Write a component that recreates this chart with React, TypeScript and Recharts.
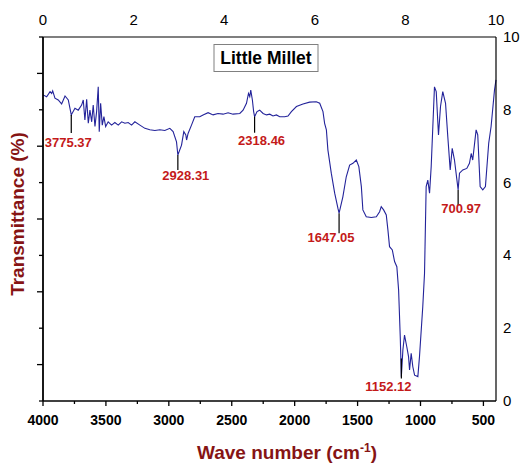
import { ComposedChart, Line, Scatter, XAxis, YAxis } from "recharts";

// FTIR spectrum of little millet (transmittance on the 0-10 frame scale)
const wavenumbers = [
  4000, 3971, 3944, 3931, 3923, 3905, 3879, 3852, 3825, 3799,
  3775.37, 3746, 3720, 3693, 3680, 3667, 3653, 3640, 3627, 3613,
  3601, 3587, 3574, 3561, 3553, 3542, 3529, 3516, 3502, 3482,
  3455, 3429, 3402, 3375, 3349, 3323, 3296, 3270, 3230, 3190,
  3151, 3111, 3071, 3032, 2992, 2966, 2939, 2928.31, 2899, 2881,
  2865, 2859, 2847, 2820, 2794, 2754, 2728, 2688, 2648, 2609,
  2569, 2529, 2490, 2436, 2410, 2383, 2367, 2357, 2349, 2336,
  2326, 2318.46, 2299, 2278, 2251, 2224, 2198, 2172, 2145, 2119,
  2079, 2053, 2026, 1986, 1934, 1881, 1828, 1801, 1775, 1762,
  1748, 1736, 1709, 1682, 1656, 1647.05, 1617, 1590, 1563, 1537,
  1510, 1490, 1470, 1458, 1431, 1391, 1351, 1325, 1312, 1293,
  1272, 1259, 1246, 1224, 1206, 1188, 1174, 1161, 1152.12, 1140,
  1127, 1109, 1095, 1087, 1074, 1061, 1047, 1021, 1008, 982,
  968, 955, 942, 928, 915, 902, 889, 875, 857, 841,
  823, 801, 783, 764, 748, 730, 700.97, 690, 664, 632,
  611, 597, 585, 558, 545, 526, 505, 484, 458, 439,
  412, 400,
];

const transmittance = [
  8.41, 8.36, 8.5, 8.45, 8.52, 8.32, 8.27, 8.16, 8.38, 8.27,
  7.86, 8.04, 7.99, 8.13, 8.27, 7.72, 8.29, 7.63, 7.99, 7.67,
  8.13, 7.54, 7.95, 8.63, 7.4, 8.18, 7.58, 7.81, 7.54, 7.67,
  7.58, 7.65, 7.58, 7.67, 7.63, 7.65, 7.58, 7.67, 7.58, 7.49,
  7.45, 7.43, 7.45, 7.43, 7.49, 7.4, 7.12, 6.76, 7.03, 7.4,
  7.31, 7.17, 7.35, 7.58, 7.81, 7.81, 7.86, 7.92, 7.86, 7.9,
  7.88, 7.92, 7.88, 7.9, 7.99, 8.18, 8.45, 8.36, 8.54, 8.27,
  7.95, 7.81, 7.95, 7.99, 7.9, 7.86, 7.88, 7.83, 7.86, 7.81,
  7.81, 7.83, 7.95, 8.09, 8.16, 8.21, 8.22, 8.18, 7.95, 7.63,
  7.45, 6.9, 6.26, 5.71, 5.29, 5.16, 5.61, 6.16, 6.48, 6.53,
  6.62, 6.44, 5.89, 5.25, 5.06, 5.04, 5.06, 5.2, 5.34, 5.25,
  5.11, 4.7, 4.24, 4.15, 3.83, 3.69, 3.05, 1.77, 0.67, 1.4,
  1.81, 1.49, 1.22, 0.85, 1.31, 0.94, 0.71, 0.67, 1.22, 2.59,
  3.51, 5.89, 6.07, 5.71, 6.44, 7.54, 8.63, 8.5, 7.31, 8.09,
  8.5, 8.18, 7.26, 6.35, 6.94, 6.62, 5.8, 6.26, 6.35, 6.39,
  6.53, 6.8, 6.62, 7.45, 7.31, 5.89, 5.8, 5.89, 7.08, 7.54,
  8.54, 8.82,
];

const peakLabels = ["3775.37", "2928.31", "2318.46", "1647.05", "1152.12", "700.97"];
const peakWavenumbers = [3775.37, 2928.31, 2318.46, 1647.05, 1152.12, 700.97];
const peakValues = [7.86, 6.76, 7.81, 5.16, 0.67, 5.8];

const bottomTicks = [4000, 3750, 3500, 3250, 3000, 2750, 2500, 2250, 2000, 1750, 1500, 1250, 1000, 750, 500];
const topTicks = [0, 2, 4, 6, 8, 10];
const leftTicks = [0, 1, 2, 3, 4, 5, 6, 7, 8, 9, 10];
const rightTicks = [0, 2, 4, 6, 8, 10];

const spectrum = wavenumbers.map((w, i) => ({ w, v: transmittance[i] }));
const peaks = peakWavenumbers.map((w, i) => ({ w, v: peakValues[i], label: peakLabels[i] }));
// the secondary 0-10 frame axes need a (hidden) series of their own to get drawn
const frame = topTicks.map((t, i) => ({ t, r: rightTicks[i] }));

// how each peak marker is drawn relative to its point: text offset, line span, text baseline
const peakLayout: Record<string, { dx: number; from: number; to: number; ty: number }> = {
  "3775.37": { dx: -3, from: 0, to: 18, ty: 32 },
  "2928.31": { dx: 8, from: 0, to: 15, ty: 25 },
  "2318.46": { dx: 7, from: 0, to: 16, ty: 28 },
  "1647.05": { dx: -8, from: 0, to: 20, ty: 29 },
  "1152.12": { dx: -13, from: -18, to: 2, ty: 14 },
  "700.97": { dx: 3, from: 0, to: 15, ty: 23 },
};

const FONT = "Arial, 'Liberation Sans', sans-serif";
const LINE_BLUE = "#23239a";
const PEAK_RED = "#c41a1a";
const TITLE_RED = "#861414";

function BottomTick({ x, y, payload }: any) {
  const major = payload.value % 500 === 0;
  return (
    <g>
      <line x1={x} y1={y} x2={x} y2={y + (major ? 5 : 3)} stroke="#000" strokeWidth={1.3} />
      {major && (
        <text x={x} y={y + 24} textAnchor="middle" fontFamily={FONT} fontWeight="bold" fontSize={14} fill="#000">
          {payload.value}
        </text>
      )}
    </g>
  );
}

function TopTick({ x, y, payload }: any) {
  return (
    <text x={x} y={y - 12} textAnchor="middle" fontFamily={FONT} fontSize={15} fill="#000">
      {payload.value}
    </text>
  );
}

function LeftTick({ x, y, payload }: any) {
  const long = payload.value % 2 === 1;
  return <line x1={x - (long ? 6 : 4)} y1={y} x2={x} y2={y} stroke="#000" strokeWidth={1.3} />;
}

function RightTick({ x, y, payload }: any) {
  return (
    <text x={x + 7} y={y + 5} textAnchor="start" fontFamily={FONT} fontSize={15} fill="#000">
      {payload.value}
    </text>
  );
}

function PeakMark({ cx, cy, payload }: any) {
  const l = peakLayout[payload.label];
  return (
    <g>
      <line x1={cx} y1={cy + l.from} x2={cx} y2={cy + l.to} stroke="#000" strokeWidth={1.2} />
      <text x={cx + l.dx} y={cy + l.ty} textAnchor="middle" fontFamily={FONT} fontWeight="bold" fontSize={13} fill={PEAK_RED}>
        {payload.label}
      </text>
    </g>
  );
}

export default function App() {
  return (
    <div style={{ position: "relative", width: 523, height: 463, background: "#fff" }}>
      <style>{`body{margin:0}`}</style>
      <ComposedChart width={523} height={463} margin={{ top: 7, right: 0, bottom: 0, left: 13 }}>
        <XAxis
          xAxisId="bottom"
          dataKey="w"
          type="number"
          domain={[400, 4000]}
          reversed
          ticks={bottomTicks}
          interval={0}
          height={62}
          tickSize={0}
          tickMargin={0}
          tickLine={false}
          tick={BottomTick}
          axisLine={{ stroke: "#000", strokeWidth: 1.5 }}
        />
        <XAxis
          xAxisId="top"
          dataKey="t"
          orientation="top"
          type="number"
          domain={[0, 10]}
          ticks={topTicks}
          interval={0}
          height={30}
          tickSize={0}
          tickMargin={0}
          tickLine={false}
          tick={TopTick}
          axisLine={{ stroke: "#000", strokeWidth: 1.2 }}
        />
        <YAxis
          yAxisId="left"
          type="number"
          domain={[0, 10]}
          ticks={leftTicks}
          interval={0}
          width={30}
          tickSize={0}
          tickMargin={0}
          tickLine={false}
          tick={LeftTick}
          axisLine={{ stroke: "#000", strokeWidth: 1.8 }}
        />
        <YAxis
          yAxisId="right"
          orientation="right"
          type="number"
          domain={[0, 10]}
          ticks={rightTicks}
          interval={0}
          width={27}
          tickSize={0}
          tickMargin={0}
          tickLine={false}
          tick={RightTick}
          axisLine={{ stroke: "#000", strokeWidth: 1.2 }}
        />
        <Line
          xAxisId="top"
          yAxisId="right"
          data={frame}
          dataKey="r"
          stroke="none"
          dot={false}
          activeDot={false}
          isAnimationActive={false}
        />
        <Line
          xAxisId="bottom"
          yAxisId="left"
          data={spectrum}
          dataKey="v"
          type="linear"
          stroke={LINE_BLUE}
          strokeWidth={1.1}
          dot={false}
          activeDot={false}
          isAnimationActive={false}
        />
        <Scatter
          xAxisId="bottom"
          yAxisId="left"
          data={peaks}
          dataKey="v"
          shape={PeakMark}
          isAnimationActive={false}
        />
      </ComposedChart>
      <svg
        width={523}
        height={463}
        style={{ position: "absolute", left: 0, top: 0, pointerEvents: "none" }}
      >
        <rect x={214} y={44.5} width={104} height={27} fill="#fff" stroke="#808080" strokeWidth={1} />
        <text x={266} y={64} textAnchor="middle" fontFamily={FONT} fontWeight="bold" fontSize={17.5} fill="#000">
          Little Millet
        </text>
        <text x={197} y={459} fontFamily={FONT} fontWeight="bold" fontSize={19} fill={TITLE_RED}>
          Wave number (cm
          <tspan dy={-7} fontSize={12}>-1</tspan>
          <tspan dy={7}>)</tspan>
        </text>
        <text
          transform="translate(24,214) rotate(-90)"
          textAnchor="middle"
          fontFamily={FONT}
          fontWeight="bold"
          fontSize={19}
          fill={TITLE_RED}
        >
          Transmittance (%)
        </text>
      </svg>
    </div>
  );
}
